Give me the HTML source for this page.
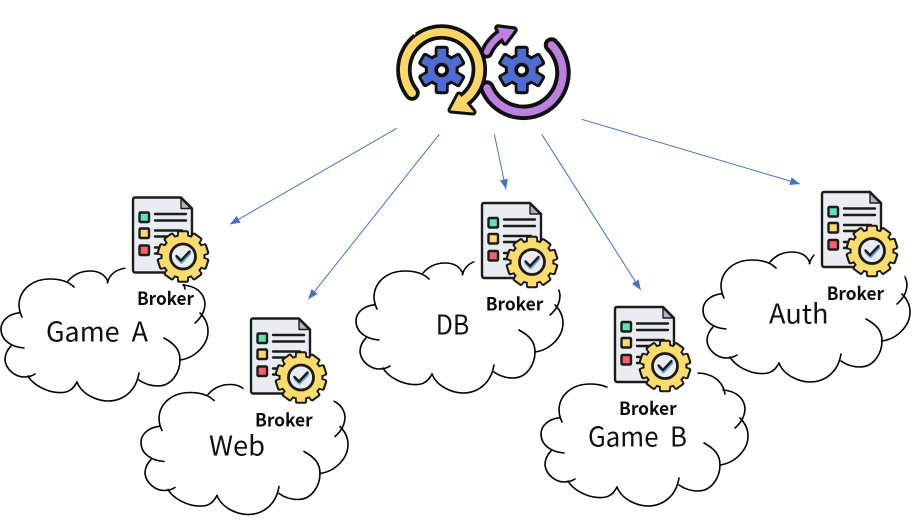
<!DOCTYPE html>
<html>
<head>
<meta charset="utf-8">
<style>
html,body{margin:0;padding:0;background:#fff;width:919px;height:520px;overflow:hidden}
svg{display:block}
.big{font-family:"Noto Sans CJK KR","Liberation Sans",sans-serif;font-size:27px;font-weight:400;fill:#111}
.brk{font-family:"Noto Sans CJK KR","Liberation Sans",sans-serif;font-size:18px;font-weight:700;fill:#0d0d0d}
</style>
</head>
<body>
<svg width="919" height="520" viewBox="0 0 919 520" xmlns="http://www.w3.org/2000/svg">
<defs>
<marker id="ah" markerUnits="userSpaceOnUse" markerWidth="11" markerHeight="9" refX="10" refY="4" orient="auto">
<path d="M0,0 L10,4 L0,8 Z" fill="#4472c4"/>
</marker>

<g id="cloud" fill="none" stroke="#000" stroke-width="1.6" stroke-linecap="round">
<path d="M107.3,282.7 C110,273 118,268.5 128,268 L157,268 C172,268 183,276 185,289"/>
<path d="M68,281 C74,274 82,271 90,271 C98,271 105,274 108,282"/>
<path d="M74,287 C68,281 60,279 50,279 C33,279 20,289 19,304 C19,309 20,313 22,317"/>
<path d="M20,312.7 C8,314 1,321 1,329 C1,340 11,347 24,348"/>
<path d="M11,346 C7,350 5,355 5,360 C6,370 16,377 24,377 C28,377 32,376 35,374"/>
<path d="M28,376 C33,385 47,392 58,392.5 C65,393 72,392 77,382"/>
<path d="M77,382 C82,395 98,401 108,401 C122,401 136,392 139,373"/>
<path d="M139,380 C146,385 152,386 158,386 C172,386 180,372 180,360 C180,350 175,344 164,338"/>
<path d="M180,360 C195,358 208,345 208,331 C208,324 205,318 200,313"/>
<path d="M195,323 C202,317 205,310 205,303 C204,293 196,286 183,285"/>
</g>

<rect id="td" x="-6" y="-26.3" width="12" height="10" rx="2.2" fill="#1a1a1a"/>
<rect id="ty" x="-4.2" y="-24.2" width="8.4" height="7" rx="1" fill="#fddc6e"/>

<g id="icon">
<rect x="-6.5" y="-5" width="90" height="92.5" fill="#fff"/>
<path d="M3,1 H49 L60,12 V73 Q60,76 57,76 H3 Q1,76 1,73 V3 Q1,1 3,1 Z" fill="#e9edf1" stroke="#1c1c1c" stroke-width="2.4" stroke-linejoin="round"/>
<path d="M49,2 L59,12 H49 Z" fill="#b9b2bc" stroke="#1c1c1c" stroke-width="1.4" stroke-linejoin="round"/>
<rect x="7.5" y="16" width="9.5" height="9.5" fill="#5fe3b0" stroke="#1c1c1c" stroke-width="2.4" rx="1"/>
<rect x="7.5" y="32" width="9.5" height="9.5" fill="#fdd969" stroke="#1c1c1c" stroke-width="2.4" rx="1"/>
<rect x="7.5" y="49" width="9.5" height="9.5" fill="#f9606b" stroke="#1c1c1c" stroke-width="2.4" rx="1"/>
<g stroke="#1c1c1c" stroke-width="2.4" stroke-linecap="round">
<path d="M23,17.5 H54 M23,24 H54 M23,34 H50 M23,40 H40 M23,51 H34 M23,57 H32"/>
</g>
<g transform="translate(51,60)">
<use href="#td"/><use href="#td" transform="rotate(36)"/><use href="#td" transform="rotate(72)"/><use href="#td" transform="rotate(108)"/><use href="#td" transform="rotate(144)"/><use href="#td" transform="rotate(180)"/><use href="#td" transform="rotate(216)"/><use href="#td" transform="rotate(252)"/><use href="#td" transform="rotate(288)"/><use href="#td" transform="rotate(324)"/>
<circle r="22.5" fill="#1a1a1a"/>
<use href="#ty"/><use href="#ty" transform="rotate(36)"/><use href="#ty" transform="rotate(72)"/><use href="#ty" transform="rotate(108)"/><use href="#ty" transform="rotate(144)"/><use href="#ty" transform="rotate(180)"/><use href="#ty" transform="rotate(216)"/><use href="#ty" transform="rotate(252)"/><use href="#ty" transform="rotate(288)"/><use href="#ty" transform="rotate(324)"/>
<circle r="20.5" fill="#fddc6e"/>
<circle r="12.5" fill="#e9edf1" stroke="#1c1c1c" stroke-width="2.8"/>
<path d="M-6,1.5 L-1.5,6 L7,-3" fill="none" stroke="#5ea4d8" stroke-width="2.4" stroke-linecap="round" stroke-linejoin="round"/>
<path d="M-6.5,-0.5 L-2,4 L6.5,-5" fill="none" stroke="#1c1c1c" stroke-width="2.4" stroke-linecap="round" stroke-linejoin="round"/>
</g>
</g>

<rect id="bd" x="-7" y="-24.3" width="14" height="11" rx="3" fill="#111"/>
<rect id="bb" x="-4.3" y="-21.3" width="8.6" height="10" rx="1.2" fill="#4f6bd0"/>
<g id="bgear">
<use href="#bd"/><use href="#bd" transform="rotate(60)"/><use href="#bd" transform="rotate(120)"/><use href="#bd" transform="rotate(180)"/><use href="#bd" transform="rotate(240)"/><use href="#bd" transform="rotate(300)"/>
<circle r="17" fill="#111"/>
<use href="#bb"/><use href="#bb" transform="rotate(60)"/><use href="#bb" transform="rotate(120)"/><use href="#bb" transform="rotate(180)"/><use href="#bb" transform="rotate(240)"/><use href="#bb" transform="rotate(300)"/>
<circle r="14" fill="#4f6bd0"/>
<circle r="7.3" fill="#111"/>
<circle r="3.6" fill="#fff"/>
</g>
</defs>

<rect width="919" height="520" fill="#fff"/>

<!-- top logo -->
<g fill="none" stroke-linecap="round" stroke-linejoin="round">
<!-- purple -->
<path d="M551.5,45 A39.5,39.5 0 1 1 487,88" stroke="#111" stroke-width="15.5"/>
<path d="M486.7,52 Q491,42 501,35" stroke="#111" stroke-width="13"/>
<path d="M498,28 L514,30 L505,42 Z" fill="#111" stroke="#111" stroke-width="7.5"/>
<path d="M551.5,45 A39.5,39.5 0 1 1 487,88" stroke="#bb80e0" stroke-width="7.5"/>
<path d="M486.7,52 Q491,42 501,35" stroke="#bb80e0" stroke-width="6"/>
<path d="M498,28 L514,30 L505,42 Z" fill="#bb80e0" stroke="#bb80e0" stroke-width="1"/>
<!-- yellow -->
<path d="M412,93 A37.7,37.7 0 1 1 464,100" stroke="#111" stroke-width="15.5"/>
<path d="M451,110 L459,95 L473,112 Z" fill="#111" stroke="#111" stroke-width="7"/>
<path d="M412,93 A37.7,37.7 0 1 1 464,100" stroke="#fdd765" stroke-width="8"/>
<path d="M451,110 L459,95 L473,112 Z" fill="#fdd765" stroke="#fdd765" stroke-width="1"/>
<path d="M411,29 L415,34.5" stroke="#fff" stroke-width="2" stroke-linecap="butt"/>
</g>
<use href="#bgear" transform="translate(441.7,70)"/>
<use href="#bgear" transform="translate(521.7,70)"/>

<!-- arrows -->
<g stroke="#4472c4" stroke-width="1" fill="none">
<line x1="396.7" y1="128.3" x2="230" y2="224.3" marker-end="url(#ah)"/>
<line x1="439.3" y1="134.3" x2="308.3" y2="299.3" marker-end="url(#ah)"/>
<line x1="494.3" y1="134.3" x2="506" y2="189.3" marker-end="url(#ah)"/>
<line x1="541.7" y1="134.3" x2="640.7" y2="290" marker-end="url(#ah)"/>
<line x1="581.7" y1="119.3" x2="800" y2="184" marker-end="url(#ah)"/>
</g>

<!-- clouds -->
<use href="#cloud"/>
<use href="#cloud" transform="translate(140,113.5)"/>
<use href="#cloud" transform="translate(355,-8)"/>
<use href="#cloud" transform="translate(540,105)"/>
<use href="#cloud" transform="translate(702,-19)"/>

<!-- icons -->
<use href="#icon" transform="translate(132,196.5)"/>
<use href="#icon" transform="translate(250,317.5)"/>
<use href="#icon" transform="translate(481,202)"/>
<use href="#icon" transform="translate(614,306)"/>
<use href="#icon" transform="translate(821,191)"/>

<!-- labels -->
<text class="big" x="46" y="341.7" textLength="102" lengthAdjust="spacingAndGlyphs" xml:space="preserve">Game  A</text>
<text class="big" x="209" y="455.3" textLength="56" lengthAdjust="spacingAndGlyphs">Web</text>
<text class="big" x="435.7" y="334.3" textLength="33.5" lengthAdjust="spacingAndGlyphs">DB</text>
<text class="big" x="588" y="446.7" textLength="99" lengthAdjust="spacingAndGlyphs" xml:space="preserve">Game  B</text>
<text class="big" x="769" y="323.3" textLength="59.5" lengthAdjust="spacingAndGlyphs">Auth</text>

<text class="brk" x="137" y="305" textLength="57" lengthAdjust="spacingAndGlyphs">Broker</text>
<text class="brk" x="255" y="426.7" textLength="57.7" lengthAdjust="spacingAndGlyphs">Broker</text>
<text class="brk" x="485.7" y="310.7" textLength="57.6" lengthAdjust="spacingAndGlyphs">Broker</text>
<text class="brk" x="619" y="415" textLength="57.7" lengthAdjust="spacingAndGlyphs">Broker</text>
<text class="brk" x="826.7" y="300" textLength="57.3" lengthAdjust="spacingAndGlyphs">Broker</text>
</svg>
</body>
</html>
